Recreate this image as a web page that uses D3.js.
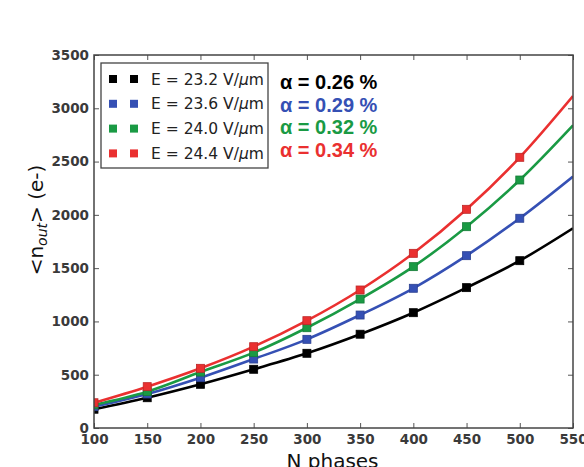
<!DOCTYPE html>
<html>
<head>
<meta charset="utf-8">
<script src="https://cdn.jsdelivr.net/npm/d3@7"></script>
<style>
  body { margin: 0; background: #fff; }
  svg { display: block; font-family: "DejaVu Sans", sans-serif; }
</style>
</head>
<body>
<div id="vis"></div>
<script>
// values
const nPhases = [100, 150, 200, 250, 300, 350, 400, 450, 500, 550]
const fields = ['23.2', '23.6', '24.0', '24.4']
const alphas = ['\u03b1 = 0.26 %', '\u03b1 = 0.29 %', '\u03b1 = 0.32 %', '\u03b1 = 0.34 %']
const nBlack = [176, 284, 410, 551, 701, 880, 1082, 1317, 1570, 1874]
const nBlue  = [200, 319, 472, 647, 832, 1060, 1311, 1617, 1968, 2360]
const nGreen = [218, 341, 525, 707, 941, 1210, 1514, 1889, 2327, 2840]
const nRed   = [237, 388, 560, 763, 1007, 1295, 1639, 2052, 2540, 3115]
const xTicks = [100, 150, 200, 250, 300, 350, 400, 450, 500, 550]
const yTicks = [0, 500, 1000, 1500, 2000, 2500, 3000, 3500]

const colors = ['#000000', '#3550b4', '#1a9a44', '#ea3030']
const series = [nBlack, nBlue, nGreen, nRed]

const W = 584, H = 467
const margin = {left: 94, top: 55, right: 11, bottom: 39}

let svg = d3.select('#vis').append('svg')
    .attr('width', W)
    .attr('height', H)

let x = d3.scaleLinear([100, 550], [margin.left, W - margin.right])
let y = d3.scaleLinear([0, 3500], [H - margin.bottom, margin.top])

svg.append('clipPath').attr('id', 'plot')
  .append('rect')
    .attr('x', x(100)).attr('y', y(3500))
    .attr('width', x(550) - x(100)).attr('height', y(0) - y(3500))

// lines
let line = d3.line()
    .x((d, i) => x(nPhases[i]))
    .y(d => y(d))
    .curve(d3.curveMonotoneX)

series.forEach((s, k) => {
    let g = svg.append('g').attr('clip-path', 'url(#plot)')
    g.append('path')
        .datum(s)
        .attr('d', line)
        .attr('fill', 'none')
        .attr('stroke', colors[k])
        .attr('stroke-width', 2.6)
    // markers only at measured points (fit runs on to 550)
    g.selectAll('rect')
        .data(s.slice(0, 9))
        .enter()
        .append('rect')
            .attr('x', (d, i) => x(nPhases[i]) - 4)
            .attr('y', d => y(d) - 4)
            .attr('width', 8)
            .attr('height', 8)
            .attr('fill', colors[k])
            .attr('stroke', d3.color(colors[k]).darker(0.6))
            .attr('stroke-width', 0.8)
})

// axes
let xAxis = d3.axisBottom(x).tickValues(xTicks).tickSize(-5).tickPadding(6).tickFormat(d3.format('d'))
let yAxis = d3.axisLeft(y).tickValues(yTicks).tickSize(-5).tickPadding(5).tickFormat(d3.format('d'))

let styleAxis = g => {
    g.select('.domain').remove()
    g.selectAll('.tick line').attr('stroke', '#555')
    g.selectAll('.tick text')
        .attr('font-size', 13.5)
        .attr('font-weight', 'bold')
        .attr('fill', '#3a3a3a')
        .attr('font-family', '"DejaVu Sans", sans-serif')
}

svg.append('g')
    .attr('transform', `translate(0,${y(0)})`)
    .call(xAxis).call(styleAxis)
svg.append('g')
    .attr('transform', `translate(${x(100)},0)`)
    .call(yAxis).call(styleAxis)
// top and right ticks
svg.append('g')
    .attr('transform', `translate(0,${y(3500)})`)
    .call(d3.axisTop(x).tickValues(xTicks).tickSize(-5).tickFormat(''))
    .call(styleAxis)
svg.append('g')
    .attr('transform', `translate(${x(550)},0)`)
    .call(d3.axisRight(y).tickValues(yTicks).tickSize(-5).tickFormat(''))
    .call(styleAxis)

svg.append('rect')
    .attr('x', x(100)).attr('y', y(3500))
    .attr('width', x(550) - x(100)).attr('height', y(0) - y(3500))
    .attr('fill', 'none')
    .attr('stroke', '#444')
    .attr('stroke-width', 1.5)

// legend
let legend = svg.append('g').attr('transform', 'translate(101,63)')
legend.append('rect')
    .attr('width', 167).attr('height', 105)
    .attr('fill', '#fff')
    .attr('stroke', '#444')
    .attr('stroke-width', 1.3)
let rows = legend.selectAll('.row')
    .data(fields).enter()
    .append('g')
    .attr('class', 'row')
    .attr('transform', (d, i) => `translate(0,${16 + i * 24.8})`)
rows.selectAll('.sq')
    .data((d, i) => [[12, i], [33, i]]).enter()
    .append('rect')
        .attr('x', d => d[0] - 4)
        .attr('y', -4)
        .attr('width', 8).attr('height', 8)
        .attr('fill', d => colors[d[1]])
let lt = rows.append('text')
    .attr('x', 50)
    .attr('y', 5.5)
    .attr('font-size', 15.5)
    .attr('fill', '#222')
lt.append('tspan').text(d => `E = ${d} V/`)
lt.append('tspan').attr('font-style', 'italic').text('\u03bc')
lt.append('tspan').text('m')

// alpha labels
svg.selectAll('.alpha')
    .data(alphas).enter()
    .append('text')
    .attr('class', 'alpha')
    .attr('x', 280)
    .attr('y', (d, i) => 89 + i * 22.7)
    .attr('font-size', 20)
    .attr('font-weight', 'bold')
    .attr('font-family', '"Liberation Sans", Arial, sans-serif')
    .attr('fill', (d, i) => colors[i])
    .text(d => d)

// axis titles
let yl = svg.append('text')
    .attr('transform', 'translate(43,220) rotate(-90)')
    .attr('text-anchor', 'middle')
    .attr('font-size', 20)
    .attr('fill', '#111')
yl.append('tspan').text('<n')
yl.append('tspan').attr('font-size', 14).attr('font-style', 'italic').attr('dy', 4).text('out')
yl.append('tspan').attr('dy', -4).text('> (e-)')

svg.append('text')
    .attr('x', (x(100) + x(550)) / 2 - 1)
    .attr('y', 468)
    .attr('text-anchor', 'middle')
    .attr('font-size', 20)
    .attr('fill', '#111')
    .text('N phases')
</script>
</body>
</html>
